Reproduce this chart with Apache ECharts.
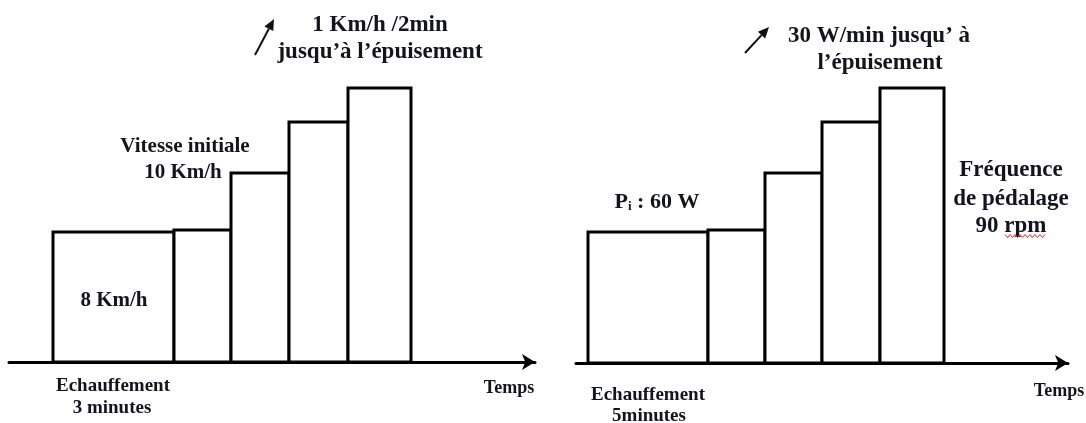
<!DOCTYPE html>
<html>
<head>
<meta charset="utf-8">
<script src="https://cdn.jsdelivr.net/npm/echarts@6/dist/echarts.min.js"></script>
<style>
html,body{margin:0;padding:0;background:#fff;}
#c{width:1086px;height:423px;}
</style>
</head>
<body>
<div id="c"></div>
<script>
// ---- Data (arbitrary schematic units) ----
// Left protocol (treadmill): stage boundaries on the time axis and stage heights
const leftBoundaries = [2.2, 8.25, 11.1, 14.0, 16.95, 20.1];
const leftHeights = [13.0, 13.2, 18.9, 24.0, 27.4];
const leftAxisMax = 26.3;
// Right protocol (cycle ergometer)
const rightBoundaries = [0.6, 6.6, 9.45, 12.3, 15.2, 18.4];
const rightHeights = [13.1, 13.3, 19.0, 24.1, 27.5];
const rightAxisMax = 24.6;
const yMax = 30;
// Texts
const axisName = 'Temps';
const leftWarmup = ['Echauffement', '3 minutes'];
const rightWarmup = ['Echauffement', '5minutes'];
const leftIncrement = ['1 Km/h /2min', 'jusqu’à l’épuisement'];
const rightIncrement = ['30 W/min jusqu’ à', 'l’épuisement'];
const leftInitial = ['Vitesse initiale', '10 Km/h'];
const leftWarmSpeed = '8 Km/h';
const rightInitial = '{a|P}{s|i}{a| : 60 W}';
const rightCadence = ['Fréquence', 'de pédalage', '90 rpm'];

function toStages(b, h) {
  const out = [];
  for (let i = 0; i < h.length; i++) out.push([b[i], b[i + 1], h[i]]);
  return out;
}

const FONT = '"Liberation Serif", "DejaVu Serif", serif';
const TXT = '#14141e';

function renderStage(params, api) {
  const p0 = api.coord([api.value(0), api.value(2)]);
  const p1 = api.coord([api.value(1), 0]);
  return {
    type: 'rect',
    shape: { x: p0[0], y: p0[1], width: p1[0] - p0[0], height: p1[1] - p0[1] },
    style: { fill: '#fff', stroke: '#000', lineWidth: 3 }
  };
}

function xAx(gi, max) {
  return {
    type: 'value', gridIndex: gi, min: 0, max: max,
    axisLine: { show: true, onZero: true, lineStyle: { color: '#000', width: 3 }, symbol: ['none', 'arrow'], symbolSize: [12, 13] },
    axisTick: { show: false }, axisLabel: { show: false }, splitLine: { show: false }
  };
}
function yAx(gi) {
  return { type: 'value', gridIndex: gi, min: 0, max: yMax, show: false, splitLine: { show: false } };
}

function txt(x, y, s, size) {
  return {
    type: 'text', x: x, y: y, z: 100,
    style: { text: s, fontFamily: FONT, fontWeight: 'bold', fontSize: size, fill: TXT, align: 'center', verticalAlign: 'middle' }
  };
}
function arrow(x0, y0, x1, y1) {
  const dx = x1 - x0, dy = y1 - y0, L = Math.hypot(dx, dy);
  const ux = dx / L, uy = dy / L, hl = 11, hw = 5;
  const bx = x1 - ux * hl, by = y1 - uy * hl;
  return [
    { type: 'line', z: 100, shape: { x1: x0, y1: y0, x2: bx, y2: by }, style: { stroke: '#111', lineWidth: 2 } },
    { type: 'polygon', z: 100, shape: { points: [[x1, y1], [bx - uy * hw, by + ux * hw], [bx + uy * hw, by - ux * hw]] }, style: { fill: '#111' } }
  ];
}
function wavy(x0, x1, y) {
  const pts = [];
  let k = 0;
  for (let x = x0; x <= x1; x += 2.5, k++) pts.push([x, y + (k % 2 ? 1.5 : -1.5)]);
  return { type: 'polyline', z: 100, shape: { points: pts }, style: { stroke: '#e02828', lineWidth: 1, fill: null } };
}

const graphics = [
  txt(380, 25, leftIncrement[0], 23),
  txt(380, 52, leftIncrement[1], 23),
  txt(185, 147, leftInitial[0], 21),
  txt(183, 173, leftInitial[1], 21),
  txt(114, 301, leftWarmSpeed, 21),
  txt(113, 386, leftWarmup[0], 19),
  txt(112, 408, leftWarmup[1], 19),
  txt(509, 388, axisName, 18),
  txt(879, 36, rightIncrement[0], 23),
  txt(880, 63, rightIncrement[1], 23),
  {
    type: 'text', x: 657, y: 202, z: 100,
    style: {
      text: rightInitial, align: 'center', verticalAlign: 'middle', fill: TXT,
      rich: {
        a: { fontFamily: FONT, fontWeight: 'bold', fontSize: 22, fill: TXT },
        s: { fontFamily: FONT, fontWeight: 'bold', fontSize: 13, fill: TXT, padding: [10, 0, 0, 0] }
      }
    }
  },
  txt(1011, 170, rightCadence[0], 23),
  txt(1011, 199, rightCadence[1], 23),
  txt(1011, 226, rightCadence[2], 23),
  txt(648, 395, rightWarmup[0], 19),
  txt(649, 416, rightWarmup[1], 19),
  txt(1059, 391, axisName, 18),
  wavy(1005, 1047, 236)
].concat(arrow(255, 55, 274, 19), arrow(745, 53, 769, 27));

const chart = echarts.init(document.getElementById('c'), null, { renderer: 'canvas' });
chart.setOption({
  backgroundColor: '#fff',
  animation: false,
  grid: [
    { left: 9, top: 62, width: 526, height: 300 },
    { left: 576, top: 63, width: 492, height: 300 }
  ],
  xAxis: [xAx(0, leftAxisMax), xAx(1, rightAxisMax)],
  yAxis: [yAx(0), yAx(1)],
  series: [
    { type: 'custom', xAxisIndex: 0, yAxisIndex: 0, renderItem: renderStage, data: toStages(leftBoundaries, leftHeights), encode: { x: [0, 1], y: 2 } },
    { type: 'custom', xAxisIndex: 1, yAxisIndex: 1, renderItem: renderStage, data: toStages(rightBoundaries, rightHeights), encode: { x: [0, 1], y: 2 } }
  ],
  graphic: graphics
});
</script>
</body>
</html>
